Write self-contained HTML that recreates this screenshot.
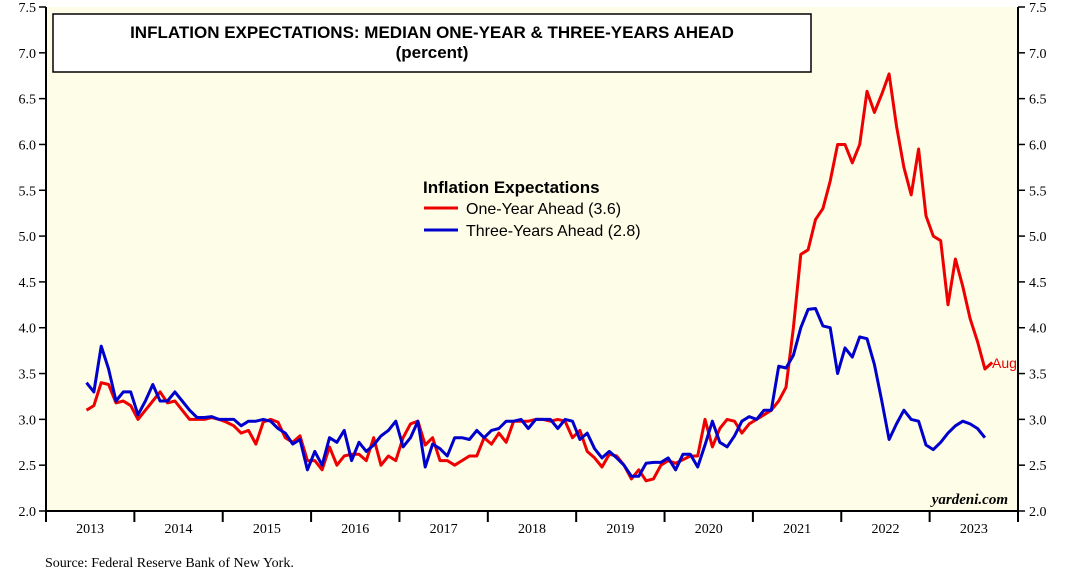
<!DOCTYPE html>
<html><head><meta charset="utf-8"><style>
body{margin:0;background:#fff;width:1068px;height:571px;overflow:hidden}
svg text{font-family:"Liberation Serif",serif}
</style></head><body>
<svg width="1068" height="571">
<rect x="46" y="7" width="972" height="504" fill="#fefde8"/>
<g id="axes"></g>
<g id="series"></g>
<rect x="53" y="14" width="758" height="58" fill="#fff" stroke="#000" stroke-width="1.5"/>
<text x="432" y="38" text-anchor="middle" style="font-family:'Liberation Sans',sans-serif;font-weight:bold;font-size:17px">INFLATION EXPECTATIONS: MEDIAN ONE-YEAR &amp; THREE-YEARS AHEAD</text>
<text x="432" y="58" text-anchor="middle" style="font-family:'Liberation Sans',sans-serif;font-weight:bold;font-size:17px">(percent)</text>
<g style="font-family:'Liberation Sans',sans-serif">
<text x="423" y="193" style="font-family:'Liberation Sans',sans-serif;font-weight:bold;font-size:17px">Inflation Expectations</text>
<line x1="424" y1="208" x2="458" y2="208" stroke="#e00" stroke-width="3"/>
<text x="466" y="214" style="font-family:'Liberation Sans',sans-serif;font-size:16px">One-Year Ahead (3.6)</text>
<line x1="424" y1="230" x2="458" y2="230" stroke="#00c" stroke-width="3"/>
<text x="466" y="236" style="font-family:'Liberation Sans',sans-serif;font-size:16px">Three-Years Ahead (2.8)</text>
</g>
<text x="992" y="368" fill="#e00" style="font-family:'Liberation Sans',sans-serif;font-size:14px">Aug</text>
<text x="1008" y="504" text-anchor="end" style="font-weight:bold;font-style:italic;font-size:15px">yardeni.com</text>
<text x="45" y="567" style="font-size:14px">Source: Federal Reserve Bank of New York.</text>
</svg>
<script>
const years=[2013,2014,2015,2016,2017,2018,2019,2020,2021,2022,2023];
const yTicks=["2.0","2.5","3.0","3.5","4.0","4.5","5.0","5.5","6.0","6.5","7.0","7.5"];
const startYear=2013, startMonth=5; // June 2013
const oneYear=[3.1,3.15,3.4,3.38,3.18,3.2,3.15,
3.0,3.1,3.2,3.3,3.18,3.2,3.1,3.0,3.0,3.0,3.02,3.0,
2.97,2.93,2.85,2.88,2.73,2.97,3.0,2.97,2.8,2.75,2.82,2.55,
2.55,2.45,2.7,2.5,2.6,2.62,2.62,2.55,2.8,2.5,2.6,2.55,
2.8,2.95,2.98,2.72,2.8,2.55,2.55,2.5,2.55,2.6,2.6,2.8,
2.73,2.85,2.75,2.98,2.98,2.98,3.0,3.0,2.98,3.0,2.98,2.8,
2.88,2.65,2.58,2.48,2.62,2.6,2.5,2.35,2.45,2.33,2.35,2.5,
2.55,2.52,2.56,2.6,2.6,3.0,2.7,2.9,3.0,2.98,2.85,2.95,
3.0,3.05,3.1,3.2,3.35,4.0,4.8,4.85,5.18,5.3,5.6,6.0,
6.0,5.8,6.0,6.58,6.35,6.55,6.77,6.2,5.75,5.45,5.95,5.22,
5.0,4.95,4.25,4.75,4.45,4.1,3.85,3.55,3.62];
const threeYear=[3.4,3.3,3.8,3.55,3.2,3.3,3.3,
3.05,3.2,3.38,3.2,3.2,3.3,3.2,3.1,3.02,3.02,3.03,3.0,
3.0,3.0,2.93,2.98,2.98,3.0,2.98,2.9,2.85,2.73,2.78,2.45,
2.65,2.5,2.8,2.75,2.88,2.55,2.75,2.65,2.72,2.82,2.88,2.98,
2.7,2.8,2.98,2.48,2.73,2.68,2.6,2.8,2.8,2.78,2.88,2.8,
2.88,2.9,2.98,2.98,3.0,2.9,3.0,3.0,3.0,2.9,3.0,2.98,
2.78,2.85,2.68,2.58,2.65,2.58,2.5,2.38,2.38,2.52,2.53,2.53,
2.58,2.45,2.62,2.62,2.48,2.72,2.98,2.75,2.7,2.82,2.98,3.03,
3.0,3.1,3.1,3.58,3.56,3.7,4.0,4.2,4.21,4.02,4.0,3.5,
3.78,3.68,3.9,3.88,3.6,3.2,2.78,2.95,3.1,3.0,2.98,2.72,
2.67,2.75,2.85,2.93,2.98,2.95,2.9,2.8];
const X0=46,X1=1018,Y0=511,Y1=7,YMIN=2,YMAX=7.5;
const xs=t=>X0+(t-startYear)/(2024-startYear)*(X1-X0);
const ys=v=>Y0-(v-YMIN)/(YMAX-YMIN)*(Y0-Y1);
const NS="http://www.w3.org/2000/svg";
const ax=document.getElementById('axes'), se=document.getElementById('series');
function mk(tag,attrs,parent){const e=document.createElementNS(NS,tag);for(const k in attrs)e.setAttribute(k,attrs[k]);parent.appendChild(e);return e;}
let l;
l=mk('line',{x1:X0,y1:Y1,x2:X0,y2:Y0+1,stroke:'#000','stroke-width':2},ax);


l=mk('line',{x1:X1,y1:Y1,x2:X1,y2:Y0+1,stroke:'#000','stroke-width':2},ax);


l=mk('line',{x1:X0,y1:Y0,x2:X1,y2:Y0,stroke:'#000','stroke-width':2},ax);


yTicks.forEach(t=>{const y=ys(parseFloat(t));
 mk('line',{x1:X0-7,y1:y,x2:X0,y2:y,stroke:'#000','stroke-width':1.5},ax);
 mk('line',{x1:X1,y1:y,x2:X1+7,y2:y,stroke:'#000','stroke-width':1.5},ax);
 let a=mk('text',{x:X0-10,y:y+5,'text-anchor':'end','font-size':14},ax);a.textContent=t;
 
 
 let b=mk('text',{x:X1+11,y:y+5,'font-size':14},ax);b.textContent=t;
 
 
});
for(let yr=2013;yr<=2024;yr++){const x=xs(yr);mk('line',{x1:x,y1:Y0,x2:x,y2:Y0+11,stroke:'#000','stroke-width':2},ax);}
years.forEach(yr=>{let t=mk('text',{x:xs(yr+0.5),y:Y0+22,'text-anchor':'middle','font-size':14},ax);t.textContent=yr;
 
 });
function line(arr,color,name){const pts=arr.map((v,i)=>xs(startYear+(startMonth+i+0.5)/12).toFixed(1)+','+ys(v).toFixed(1)).join(' ');
 const p=mk('polyline',{points:pts,fill:'none',stroke:color,'stroke-width':3,'stroke-linejoin':'round'},se);
 
 }
line(oneYear,'#e00','one-year-ahead-line');
line(threeYear,'#00c','three-years-ahead-line');
</script>
</body></html>
